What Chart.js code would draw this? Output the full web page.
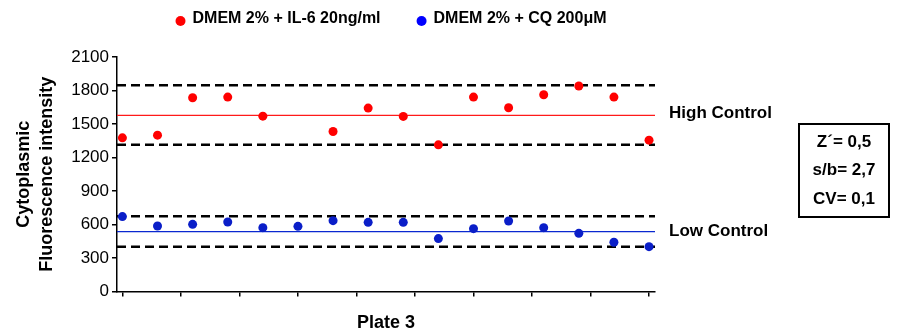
<!DOCTYPE html>
<html>
<head>
<meta charset="utf-8">
<script src="https://cdn.jsdelivr.net/npm/chart.js@4.4.0/dist/chart.umd.min.js"></script>
<style>
    html, body { margin: 0; padding: 0; background: #fff; }
    #wrap { width: 899px; height: 334px; position: relative; }
</style>
</head>
<body>
<div id="wrap"><canvas id="qcChart"></canvas></div>
<script>
/* ================================
   Data
================================ */
const wells = [0, 1, 2, 3, 4, 5, 6, 7, 8, 9, 10, 11, 12, 13, 14, 15];
const il6Values = [1376, 1400, 1735, 1741, 1570, null, 1433, 1642, 1568, 1313, 1741, 1645, 1762, 1840, 1741, 1355];
const cqValues = [670, 586, 601, 622, 571, 583, 634, 619, 619, 473, 562, 631, 571, 520, 440, 401];

const highLimits = [1848, 1313];
const highMean = 1577;
const lowLimits = [673, 401];
const lowMean = 536;

const yTicks = [0, 300, 600, 900, 1200, 1500, 1800, 2100];
const xTicks = [0, 1.667, 3.333, 5, 6.667, 8.333, 10, 11.667, 13.333, 15];
const xRange = [-0.154, 15.17];

const seriesLabels = ["DMEM 2% + IL-6 20ng/ml", "DMEM 2% + CQ 200\u03BCM"];
const controlLabels = ["High Control", "Low Control"];
const statsLines = ["Z\u00B4= 0,5", "s/b= 2,7", "CV= 0,1"];

const FONT = "'Liberation Sans', Arial, Helvetica, sans-serif";
const RED = "#ff0000";
const BLUE = "#0a1ec8";

/* ================================
   Helpers
================================ */
function toPoints(values) {
    return values.map((v, i) => ({ x: wells[i], y: v }));
}

function hLine(value, color, width, dash) {
    return {
        type: "line",
        data: [{ x: xRange[0], y: value }, { x: xRange[1], y: value }],
        borderColor: color,
        borderWidth: width,
        borderDash: dash,
        pointRadius: 0,
        fill: false
    };
}

/* ================================
   Legend, control labels, stats box
================================ */
const annotationPlugin = {
    id: "annotations",
    afterDraw(chart) {
        const ctx = chart.ctx;
        const area = chart.chartArea;
        const y = chart.scales.y;
        ctx.save();

        // legend
        ctx.font = "bold 16px " + FONT;
        ctx.textBaseline = "middle";
        ctx.textAlign = "left";
        const colors = [RED, "#0000ff"];
        const itemWidths = seriesLabels.map(t => 17 + ctx.measureText(t).width);
        const gap = 36;
        const total = itemWidths[0] + gap + itemWidths[1];
        let x = (area.left + area.right) / 2 + 5 - total / 2;
        seriesLabels.forEach((label, i) => {
            ctx.fillStyle = colors[i];
            ctx.beginPath();
            ctx.arc(x + 5, 21, 5, 0, Math.PI * 2);
            ctx.fill();
            ctx.fillStyle = "#000";
            ctx.fillText(label, x + 17, 19);
            x += itemWidths[i] + gap;
        });

        // control labels
        ctx.font = "bold 17px " + FONT;
        ctx.fillText(controlLabels[0], area.right + 14, y.getPixelForValue(highMean) - 2);
        ctx.fillText(controlLabels[1], area.right + 14, y.getPixelForValue(lowMean));

        // stats box
        const bx = area.right + 144, by = 124, bw = 90, bh = 93;
        ctx.lineWidth = 2;
        ctx.strokeStyle = "#000";
        ctx.strokeRect(bx, by, bw, bh);
        ctx.textAlign = "center";
        statsLines.forEach((line, i) => {
            ctx.fillText(line, bx + bw / 2, by + 18 + i * 28.5);
        });
        ctx.restore();
    }
};

/* ================================
   Chart
================================ */
function renderChart() {
    const ctx = document.getElementById("qcChart");

    new Chart(ctx, {
        data: {
            datasets: [
                {
                    type: "scatter",
                    label: seriesLabels[0],
                    data: toPoints(il6Values),
                    backgroundColor: RED,
                    borderColor: RED,
                    pointRadius: 4.5,
                    borderWidth: 0
                },
                {
                    type: "scatter",
                    label: seriesLabels[1],
                    data: toPoints(cqValues),
                    backgroundColor: BLUE,
                    borderColor: BLUE,
                    pointRadius: 4.5,
                    borderWidth: 0
                },
                hLine(highLimits[0], "#000", 2.5, [9, 5]),
                hLine(highLimits[1], "#000", 2.5, [9, 5]),
                hLine(lowLimits[0], "#000", 2.5, [9, 5]),
                hLine(lowLimits[1], "#000", 2.5, [9, 5]),
                hLine(highMean, "#ff1a1a", 1.3, []),
                hLine(lowMean, "#0a28d0", 1.3, [])
            ]
        },
        options: {
            responsive: true,
            maintainAspectRatio: false,
            animation: false,
            layout: { padding: { top: 57, right: 244, bottom: 0, left: 0 } },
            plugins: {
                legend: { display: false },
                tooltip: { enabled: false }
            },
            scales: {
                x: {
                    type: "linear",
                    min: xRange[0],
                    max: xRange[1],
                    afterBuildTicks: scale => {
                        scale.ticks = xTicks.map(v => ({ value: v }));
                    },
                    ticks: { display: false },
                    grid: {
                        display: true,
                        drawOnChartArea: false,
                        drawTicks: true,
                        tickLength: 5,
                        color: "#000",
                        lineWidth: 1.5
                    },
                    border: { display: true, color: "#000", width: 1.5 },
                    title: {
                        display: true,
                        text: "Plate 3",
                        color: "#000",
                        font: { family: FONT, size: 18, weight: "bold" },
                        padding: { top: 16, bottom: 0 }
                    }
                },
                y: {
                    min: 0,
                    max: 2100,
                    afterBuildTicks: scale => {
                        scale.ticks = yTicks.map(v => ({ value: v }));
                    },
                    afterFit: scale => { scale.width = 117; },
                    ticks: {
                        color: "#000",
                        padding: 3,
                        font: { family: FONT, size: 17 },
                        callback: v => String(v)
                    },
                    grid: {
                        display: true,
                        drawOnChartArea: false,
                        drawTicks: true,
                        tickLength: 5,
                        color: "#000",
                        lineWidth: 1.5
                    },
                    border: { display: true, color: "#000", width: 1.5 },
                    title: {
                        display: true,
                        text: ["Cytoplasmic", "Fluorescence intensity"],
                        color: "#000",
                        font: { family: FONT, size: 18, weight: "bold", lineHeight: 1.27 },
                        padding: { top: 13, bottom: 0 }
                    }
                }
            }
        },
        plugins: [annotationPlugin]
    });
}

document.addEventListener("DOMContentLoaded", renderChart);
</script>
</body>
</html>
